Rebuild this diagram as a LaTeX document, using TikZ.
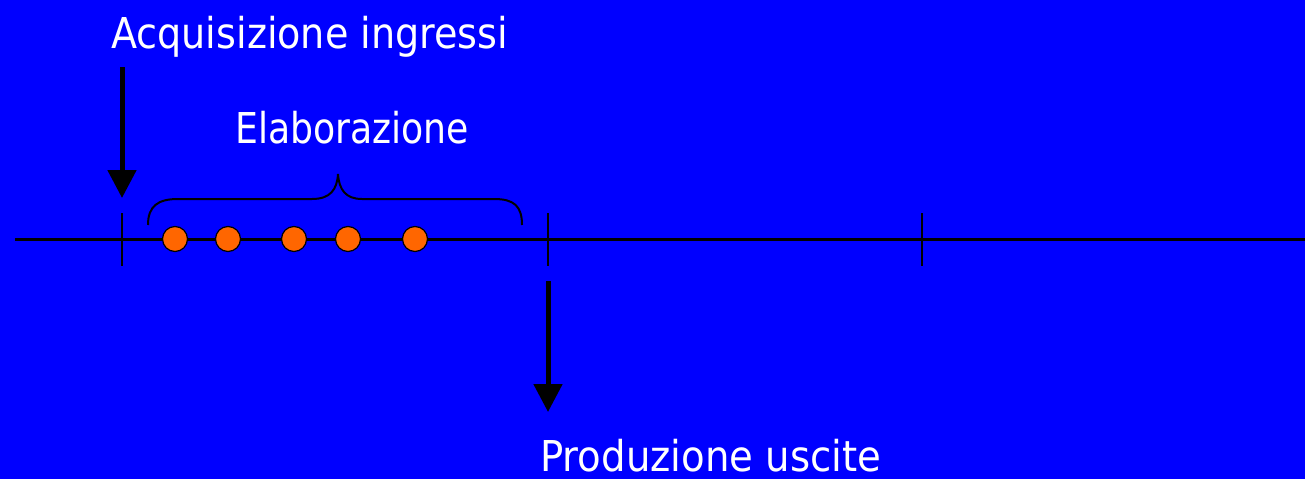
\documentclass[tikz,border=0pt]{standalone}
\usepackage{fontspec}
\setmainfont{DejaVu Sans}
\usetikzlibrary{arrows.meta}
\definecolor{bgblue}{HTML}{0000FF}
\definecolor{dotorange}{HTML}{FF6600}
\begin{document}
\begin{tikzpicture}[x=1pt,y=-1pt,
  lbl/.style={text=white,font=\fontsize{42.5}{50}\selectfont,inner sep=0pt,anchor=base west},
  bigarrow/.style={line width=5pt,-{Triangle[width=28pt,length=28pt]}},
  tick/.style={line width=2.5pt},
  dot/.style={circle,draw=black,line width=1.2pt,fill=dotorange,minimum size=25pt,inner sep=0pt}]
\fill[bgblue] (0,0) rectangle (1305,479);
\useasboundingbox (0,0) rectangle (1305,479);
% timeline
\coordinate (tl0) at (15,239);
\coordinate (tl1) at (1305,239);
\draw[line width=3pt] (tl0) -- (tl1);
% ticks
\foreach \n/\x in {a/122,b/548,c/922}{
  \coordinate (t\n top) at (\x,213);
  \coordinate (t\n bot) at (\x,266);
  \draw[tick] (t\n top) -- (t\n bot);
}
% dots
\foreach \i/\x in {1/175,2/228,3/294,4/348,5/415}{
  \node[dot] (d\i) at (\x,239) {};
}
% brace
\draw[line width=2pt] (148,225) .. controls (148,206) and (158,199) .. (178,199)
  -- (312,199) .. controls (330,199) and (337,190) .. (338,174)
  .. controls (339,190) and (346,199) .. (362,199)
  -- (494,199) .. controls (514,199) and (522,206) .. (522,225);
% labels
\node[lbl] (acq) at (111,48) {\resizebox{397pt}{\height}{Acquisizione ingressi}};
\node[lbl] (elab) at (235,143) {\resizebox{234pt}{\height}{Elaborazione}};
\node[lbl] (prod) at (540,471) {\resizebox{341pt}{\height}{Produzione uscite}};
% arrows
\coordinate (a1s) at (122,67);
\coordinate (a1e) at (122,198);
\coordinate (a2s) at (548,281);
\coordinate (a2e) at (548,412);
\draw[bigarrow] (a1s) -- (a1e);
\draw[bigarrow] (a2s) -- (a2e);
\end{tikzpicture}
\end{document}
